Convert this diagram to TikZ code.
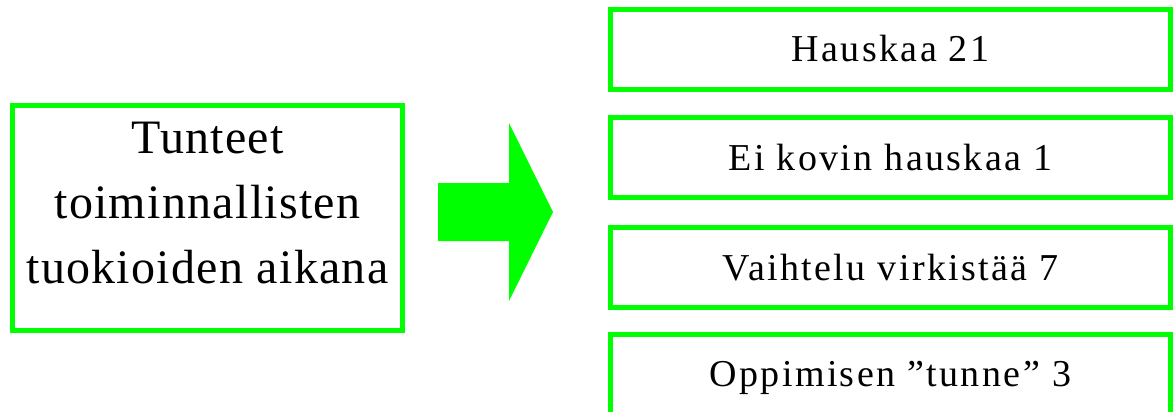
\documentclass[tikz,border=0pt]{standalone}
\usepackage{fontspec}
\setmainfont{Liberation Serif}
\newfontfamily\lefttxt[LetterSpace=2.7]{Liberation Serif}
\newfontfamily\righttxt[LetterSpace=6.3]{Liberation Serif}
\definecolor{vgreen}{RGB}{0,255,0}
\begin{document}
\begin{tikzpicture}[x=1pt,y=-1pt,
  frame/.style={draw=vgreen, line width=5pt, inner sep=0pt, fill=white},
  bigtxt/.style={align=center, inner sep=0pt, font=\lefttxt\fontsize{48}{65}\selectfont},
  rbox/.style={frame, minimum width=560pt, minimum height=80pt, text height=25pt, text depth=0pt, font=\righttxt\fontsize{38}{44}\selectfont}]
\useasboundingbox (0,0) rectangle (1173,412);
\begin{scope}
\clip (0,0) rectangle (1173,412);
% left box
\node[frame, minimum width=390pt, minimum height=225pt] (L) at (207.5,218) {};
\node[bigtxt] (Lt) at (207.5,203) {Tunteet\\toiminnallisten\\tuokioiden aikana};
% block arrow
\fill[vgreen] (438,183) -- (509,183) -- (509,123) -- (553,212) -- (509,301) -- (509,241) -- (438,241) -- cycle;
% right boxes
\node[rbox] (R1) at (890.5,49.5) {Hauskaa 21};
\node[rbox] (R2) at (890.5,157.5) {Ei kovin hauskaa 1};
\node[rbox] (R3) at (890.5,267.5) {Vaihtelu virkistää 7};
\node[rbox] (R4) at (890.5,374) {Oppimisen ”tunne”\,\,3};
\end{scope}
\end{tikzpicture}
\end{document}
